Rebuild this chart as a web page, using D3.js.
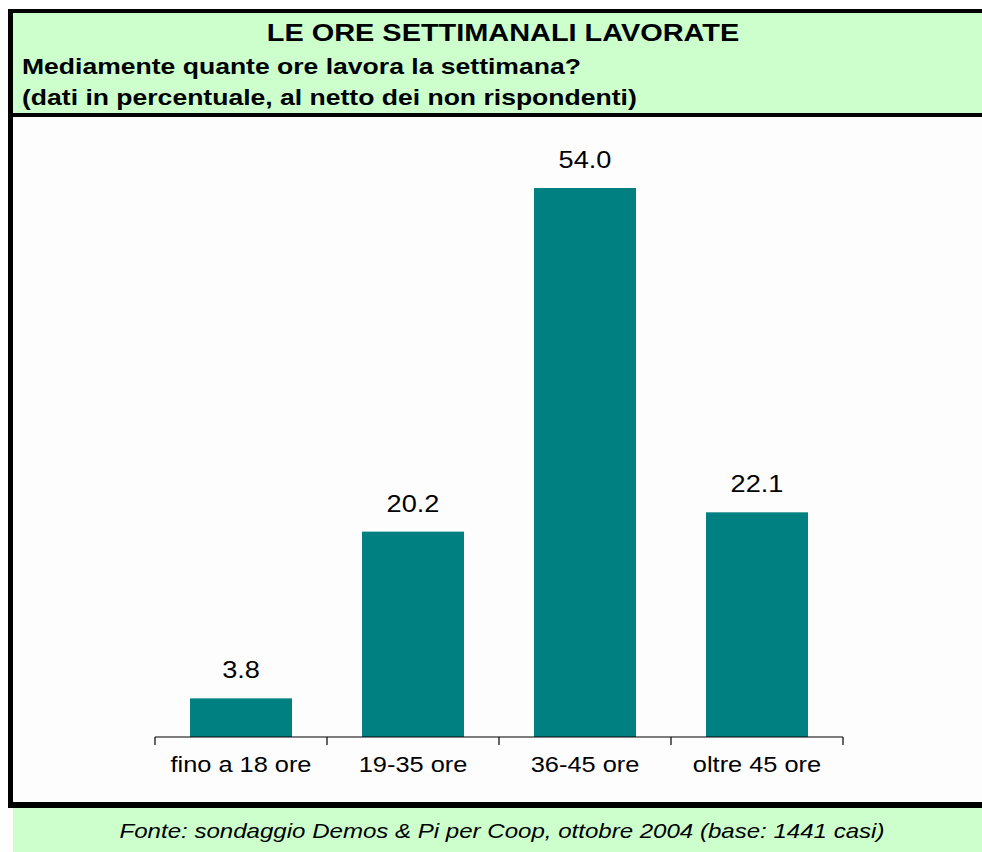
<!DOCTYPE html>
<html>
<head>
	<title> ore settimanali </title>
	<script src="https://d3js.org/d3.v7.min.js"></script>
	<style>
		body { margin: 0; background: #fff; }
		text { font-family: Arial, "Liberation Sans", sans-serif; }
	</style>
</head>
<body>
	<svg width="982" height="852"></svg>
	<script type="text/javascript">
		let categories = ["fino a 18 ore", "19-35 ore", "36-45 ore", "oltre 45 ore"];
		let values = [3.8, 20.2, 54.0, 22.1];
		let valueLabels = ["3.8", "20.2", "54.0", "22.1"];
		let title = "LE ORE SETTIMANALI LAVORATE";
		let subtitle = ["Mediamente quante ore lavora la settimana?", "(dati in percentuale, al netto dei non rispondenti)"];
		let source = "Fonte: sondaggio Demos & Pi per Coop, ottobre 2004 (base: 1441 casi)";

		let svg = d3.select("svg");
		let green = "#ccffcc", teal = "#008080";
		let sx = 1.18; // the original picture is stretched sideways

		// text helper, stretched horizontally like the source image
		function addText(x, y, str, size, anchor, weight, style)
		{
			let g = svg.append("g").attr("transform", "translate(" + x + "," + y + ") scale(" + sx + ",1)");
			g.append("text")
				.attr("text-anchor", anchor)
				.attr("font-size", size)
				.attr("font-weight", weight || "normal")
				.attr("font-style", style || "normal")
				.attr("fill", "#000")
				.text(str);
		}

		// frame: header, plot area, footer
		svg.append("rect").attr("x", 8).attr("y", 9).attr("width", 974).attr("height", 799).attr("fill", "#000");
		svg.append("rect").attr("x", 13).attr("y", 13).attr("width", 969).attr("height", 100).attr("fill", green);
		svg.append("rect").attr("x", 13).attr("y", 117).attr("width", 969).attr("height", 685).attr("fill", "#fdfdfd");
		svg.append("rect").attr("x", 13).attr("y", 808).attr("width", 969).attr("height", 44).attr("fill", green);

		addText(503, 41, title, 24.5, "middle", "bold");
		addText(22, 74, subtitle[0], 22.5, "start", "bold");
		addText(22, 105, subtitle[1], 22.5, "start", "bold");
		addText(502, 838, source, 20.4, "middle", "normal", "italic");

		let x = d3.scaleBand().domain(categories).range([155, 843]).paddingInner(0.407).paddingOuter(0.2035);
		let y = d3.scaleLinear().domain([0, 60]).range([737, 127]);

		// bars
		svg.selectAll("rect.bar").data(values).join("rect")
			.attr("class", "bar")
			.attr("fill", teal)
			.attr("x", function(d, i) { return x(categories[i]); })
			.attr("y", function(d) { return y(d); })
			.attr("width", x.bandwidth())
			.attr("height", function(d) { return y(0) - y(d); });

		// value labels
		values.forEach(function(d, i) {
			addText(x(categories[i]) + x.bandwidth() / 2, y(d) - 20, valueLabels[i], 23, "middle");
		});

		// category axis with ticks between categories
		let step = x.step();
		let gap = step * x.paddingInner() / 2;
		svg.append("line")
			.attr("x1", x.range()[0]).attr("x2", x.range()[1])
			.attr("y1", y(0)).attr("y2", y(0))
			.attr("stroke", "#000").attr("stroke-width", 1.2);
		let tickPos = categories.map(function(c) { return x(c) - gap; }).concat([x.range()[1]]);
		svg.selectAll("line.tick").data(tickPos).join("line")
			.attr("class", "tick")
			.attr("x1", function(d) { return d; }).attr("x2", function(d) { return d; })
			.attr("y1", y(0)).attr("y2", y(0) + 8)
			.attr("stroke", "#000").attr("stroke-width", 1.2);
		categories.forEach(function(c) {
			addText(x(c) + x.bandwidth() / 2, 772, c, 21.5, "middle");
		});
	</script>
</body>
</html>
